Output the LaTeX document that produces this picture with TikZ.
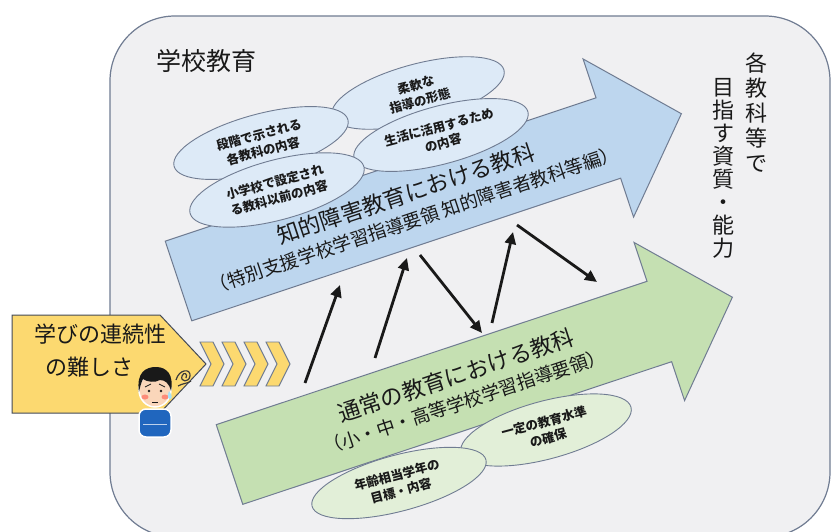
\documentclass[tikz,border=0pt]{standalone}
\usepackage{fontspec}
\setmainfont{Noto Sans CJK JP}
\usepackage{tikz}
\usetikzlibrary{arrows.meta,shapes.geometric}
\definecolor{frame}{RGB}{112,124,146}
\definecolor{paper}{RGB}{240,240,242}
\definecolor{tokubetsu}{RGB}{189,214,238}
\definecolor{tokuoval}{RGB}{221,234,247}
\definecolor{tsujo}{RGB}{197,224,178}
\definecolor{tsujooval}{RGB}{226,239,216}
\definecolor{kiiro}{RGB}{252,217,112}
\definecolor{ink}{RGB}{25,25,25}
\definecolor{sweater}{RGB}{32,102,190}
\definecolor{skin}{RGB}{250,214,186}

\begin{document}
\begin{tikzpicture}[x=1pt,y=-1pt,
  oval/.style={ellipse,draw=frame,line width=0.9pt,inner sep=0pt,align=center,rotate=15,font=\fontsize{12.5}{16.5}\selectfont\bfseries,text=ink},
  band/.style={draw=frame,line width=1pt},
  bandtext/.style={align=center,font=\fontsize{22.5}{26}\selectfont,text=ink},
  tate/.style={align=center,font=\fontsize{22}{25}\selectfont,text=ink},
  hop/.style={line width=2.8pt,ink,-{Triangle[length=12pt,width=11pt]}}]
  \useasboundingbox (0,0) rectangle (831,532);
  \fill[white] (0,0) rectangle (831,532);
  \filldraw[fill=paper,draw=frame,line width=1.2pt,rounded corners=65pt] (110,16) rectangle (830,537);
  \node[font=\fontsize{25}{28}\selectfont,text=ink] (gakko) at (206,61) {学校教育};
  \node[tate] (kaku) at (756,113) {各\\教\\科\\等\\で};
  \node[tate,font=\fontsize{22}{23}\selectfont] (shishitsu) at (723,168) {目\\指\\す\\資\\質\\・\\能\\力};
  % the two subject bands
  \foreach \cx/\cy/\col in {178.5/281/tokubetsu,229.5/464.5/tsujo}
    \draw[band,fill=\col,shift={(\cx,\cy)},rotate=18.4] (0,-42) -- (454,-42) -- (454,-83) -- (530,0) -- (452,83) -- (452,42) -- (0,42) -- cycle;
  \begin{scope}[shift={(178.5,281)},rotate=18.4,transform shape]
    \node[bandtext] (chiteki) at (243,2) {知的障害教育における教科\\{\fontsize{18.5}{22}\selectfont （特別支援学校学習指導要領 知的障害者教科等編）}};
  \end{scope}
  \begin{scope}[shift={(229.5,464.5)},rotate=18.4,transform shape]
    \node[bandtext] (tsujoka) at (243,0) {通常の教育における教科\\{\fontsize{18.5}{22}\selectfont （小・中・高等学校学習指導要領）}};
  \end{scope}
  % ovals on top of the bands
  \node[oval,fill=tokuoval,minimum width=178pt,minimum height=58pt] (junan) at (418,93) {柔軟な\\指導の形態};
  \node[oval,fill=tokuoval,minimum width=180pt,minimum height=58pt] (dankai) at (261,143) {段階で示される\\各教科の内容};
  \node[oval,fill=tokuoval,minimum width=180pt,minimum height=58pt] (seikatsu) at (441,135) {生活に活用するため\\の内容};
  \node[oval,fill=tokuoval,minimum width=180pt,minimum height=60pt] (shogakko) at (277,190) {小学校で設定され\\る教科以前の内容};
  \node[oval,fill=tsujooval,minimum width=176pt,minimum height=58pt] (ittei) at (546,430) {一定の教育水準\\の確保};
  \node[oval,fill=tsujooval,minimum width=180pt,minimum height=56pt] (nenrei) at (399,483) {年齢相当学年の\\目標・内容};
  % callout and chevrons
  \filldraw[fill=kiiro,draw=frame!60!black,line width=1pt] (12,315) -- (160,315) -- (206,364) -- (160,413) -- (12,413) -- cycle;
  \node[anchor=west,font=\fontsize{22}{25}\selectfont,text=ink] (manabi) at (31,334) {学びの連続性};
  \node[anchor=west,font=\fontsize{22}{25}\selectfont,text=ink] (muzukashisa) at (42,367) {の難しさ};
  \foreach \x in {200,222,244,266}
    \draw[fill=kiiro,draw=frame,line width=0.9pt] (\x,342) -- ++(13,0) -- ++(11,22) -- ++(-11,22) -- ++(-13,0) -- ++(11,-22) -- cycle;
  % worried boy
  \filldraw[sweater,draw=white,line width=1.5pt,rounded corners=7pt] (139,437) -- (139,409) -- (171,409) -- (171,437) -- cycle;
  \draw[white!70!sweater,line width=0.8pt] (143,424) -- (167,424);
  \filldraw[skin,draw=white,line width=1.5pt] (155,390) ellipse (16 and 17);
  \fill[ink] (139,392) .. controls (136,372) and (146,367) .. (156,367) .. controls (167,367) and (174,375) .. (171,391) .. controls (169,383) and (165,380) .. (160,380) .. controls (155,383) and (147,382) .. (143,379) .. controls (141,383) and (140,387) .. (139,392) -- cycle;
  \fill[ink] (149,391) circle (1.3pt) (161,391) circle (1.3pt);
  \draw[ink,line width=0.8pt] (145,387) -- (151,384) (159,384) -- (165,387);
  \fill[red!35!skin] (145,397) ellipse (3.5 and 2.5) (165,397) ellipse (3.5 and 2.5);
  \draw[ink,line width=0.7pt] (152,402) -- (158,402);
  \fill[cyan!35] (169,391) .. controls (167,396) and (168,399) .. (170,399) .. controls (172,399) and (173,396) .. (169,391);
  \draw[ink!85,line width=1.2pt] (176,380) .. controls (179,369) and (191,368) .. (190,376) .. controls (189,383) and (180,382) .. (182,376) .. controls (184,371) and (188,374) .. (186,378);
  \draw[ink!85,line width=1.2pt] (178,386) .. controls (183,383) and (187,384) .. (191,381);
  % hops between the bands
  \foreach \n/\x/\y in {p1/305/383,q1/340/285,p2/375/358,q2/407/258,p3/420/255,q3/482/333,p4/492/323,q4/513/232,p5/517/225,q5/597/282}
    \coordinate (\n) at (\x,\y);
  \foreach \a/\b in {p1/q1,p2/q2,p3/q3,p4/q4,p5/q5}
    \draw[hop] (\a) -- (\b);
\end{tikzpicture}
\end{document}
